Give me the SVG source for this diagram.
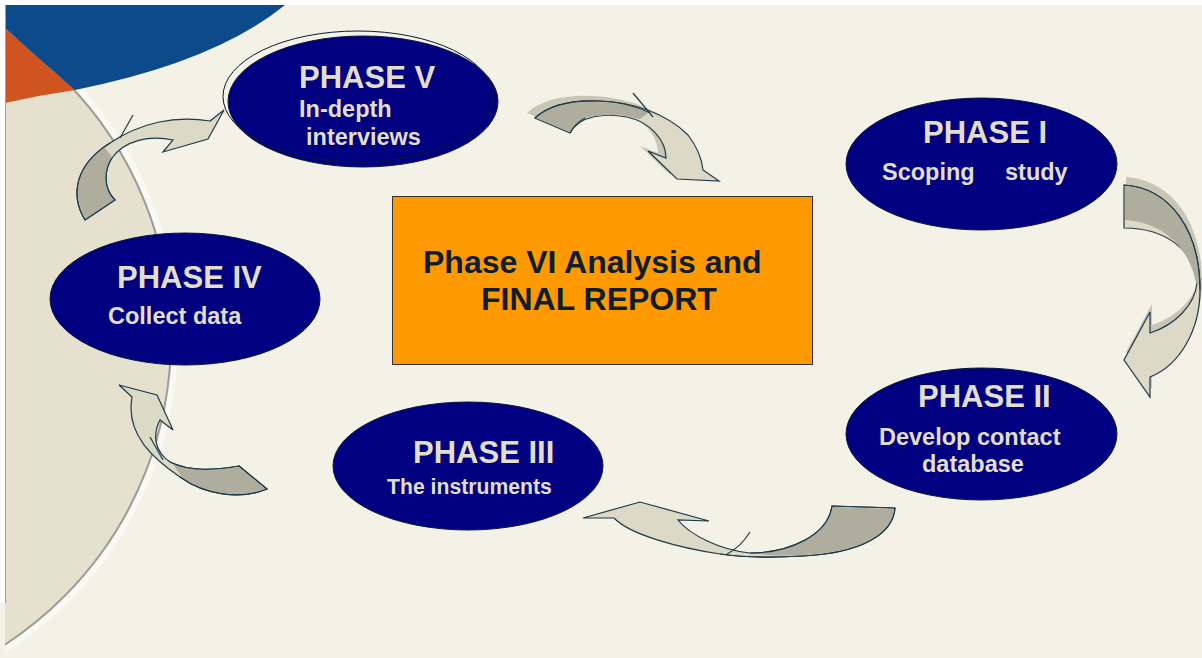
<svg xmlns="http://www.w3.org/2000/svg" width="1202" height="658" viewBox="0 0 1202 658">
<defs>
<style>
.ell{fill:#000080;stroke:#0b1840;stroke-width:1}
.t{font-family:"Liberation Sans",Arial,sans-serif;font-weight:bold;fill:#e2ded0}
.h{font-size:31px}
.s{font-size:23.5px}
.c{font-family:"Liberation Sans",Arial,sans-serif;font-weight:bold;font-size:32px;fill:#0f1e2b}
.ar{fill:#dcd9c6;stroke:#1e3a4a;stroke-width:1.2;stroke-linejoin:miter}
.tail{fill:#afad9e;stroke:none}
.sh{fill:#c9c6b5;stroke:none}
.st{fill:none;stroke:#1e3a4a;stroke-width:1.2}
</style>
<clipPath id="bg"><rect x="5" y="5" width="1197" height="653"/></clipPath>
</defs>
<rect width="1202" height="658" fill="#ffffff"/>
<rect x="5" y="5" width="1197" height="653" fill="#f4f1e6"/>
<rect x="0" y="603" width="5" height="55" fill="#f4f1e6"/>
<g id="background" clip-path="url(#bg)">
<circle cx="-195" cy="338" r="370" fill="none" stroke="#faf9f3" stroke-width="6"/>
<circle cx="-195" cy="338" r="366" fill="#e6e0cf" stroke="#9c9c98" stroke-width="2"/>
<path d="M5,28 Q40,60 75,90 Q40,95 5,103 Z" fill="#cf5420"/>
<path d="M5,5 L285,5 Q215,62 75,90 Q40,60 5,28 Z" fill="#0c4a8c"/>
</g>
<line x1="5.5" y1="5" x2="5.5" y2="603" stroke="#a0a0a0" stroke-width="1"/>
<g id="connectors">
<g id="arrow-v-vi">
<path class="sh" transform="translate(-8,-5)" d="M535,118 C550,104 575,100 600,101 C630,102 665,112 688,135 C698,148 702,160 703,170 L719,181 L677,179 L648,151 L666,158 C666,140 650,122 627,117 C605,113 580,115 570,133 Z"/>
<path class="ar" d="M535,118 C550,104 575,100 600,101 C630,102 665,112 688,135 C698,148 702,160 703,170 L719,181 L677,179 L648,151 L666,158 C666,140 650,122 627,117 C605,113 580,115 570,133 Z"/>
<path class="tail" d="M536,118 C550,105 575,101 600,102 C620,103 638,107 648,113 L640,119 C622,114 600,114 585,118 C578,122 573,127 570,132 Z"/>
<path class="st" d="M535,118 C550,104 575,100 600,101 C620,102 638,107 650,113 M585,118 C578,122 573,127 570,133"/>
<line class="st" x1="633" y1="93" x2="653" y2="117"/>
</g>
<g id="arrow-i-ii">
<path class="sh" transform="translate(2,-8)" d="M1124,185 C1170,188 1200,230 1200,290 C1200,330 1180,365 1150,377 L1150,397 L1124,360 L1150,312 L1150,333 C1175,325 1195,305 1197,283 C1195,250 1165,228 1124,228 Z"/>
<path class="ar" d="M1124,185 C1170,188 1200,230 1200,290 C1200,330 1180,365 1150,377 L1150,397 L1124,360 L1150,312 L1150,333 C1175,325 1195,305 1197,283 C1195,250 1165,228 1124,228 Z"/>
<path class="tail" d="M1125,186 C1170,189 1199,230 1199,285 L1196,283 C1190,250 1165,222 1125,220 Z"/>
<path class="st" d="M1124,185 C1170,188 1200,230 1200,290"/>
</g>
<g id="arrow-ii-iii">
<path class="ar" d="M895,508 C893,535 860,553 803,556 C770,558 740,557 720,554 C680,548 630,535 614,518 L583,518 L640,502 L709,521 L678,520 C690,535 720,550 750,553 C790,553 828,535 832,506 Z"/>
<path class="tail" d="M894,509 C892,535 860,552 803,555 C780,556 762,555 752,553 C790,552 827,535 833,507 Z"/>
<path class="st" d="M895,508 C893,535 860,553 803,556 C770,558 740,557 720,554 M750,553 C790,553 828,535 832,506 L895,508"/>
<path class="st" d="M750,532 C742,545 735,550 727,554"/>
</g>
<g id="arrow-iii-iv">
<path class="ar" d="M119,385 L157,395 L173,430 L160,420 C152,435 155,452 170,462 C190,472 215,470 239,466 L267,489 C240,500 205,495 180,477 C155,460 125,435 132,397 Z"/>
<path class="tail" d="M172,463 C190,472 215,470 239,467 L266,489 C240,499 205,494 182,477 Z"/>
<path class="st" d="M170,462 C190,472 215,470 239,466 L267,489 C240,500 205,495 180,477"/>
<line class="st" x1="150" y1="437" x2="163" y2="460"/>
</g>
<g id="arrow-iv-v">
<path class="ar" d="M85,220 C70,195 75,165 110,143 C140,123 175,115 210,121 L224,110 L208,139 L163,152 L173,140 C150,135 125,140 112,158 C104,170 103,188 115,200 Z"/>
<path class="tail" d="M86,219 C71,195 76,166 104,147 L112,157 C104,170 103,188 114,200 Z"/>
<path class="st" d="M85,220 C70,195 75,165 110,143 M112,158 C104,170 103,188 115,200 L85,220"/>
<line class="st" x1="133" y1="115" x2="120" y2="138"/>
</g>
</g>
<g id="phase-v">
<ellipse class="ell" cx="363" cy="101.5" rx="135" ry="65.5"/>
<ellipse cx="358" cy="96.5" rx="135" ry="65.5" fill="none" stroke="#0b1a30" stroke-width="1"/>
<text class="t h" x="299" y="88">PHASE V</text>
<text class="t s" x="299" y="117">In-depth</text>
<text class="t s" x="306" y="145">interviews</text>
</g>
<g id="phase-i">
<ellipse class="ell" cx="981.5" cy="164" rx="135.5" ry="66"/>
<text class="t h" x="923" y="143">PHASE I</text>
<text class="t s" y="180"><tspan x="882">Scoping</tspan><tspan x="1005">study</tspan></text>
</g>
<g id="phase-ii">
<ellipse class="ell" cx="981.5" cy="434" rx="135.5" ry="66"/>
<text class="t h" x="918" y="407">PHASE II</text>
<text class="t s" x="879" y="445">Develop contact</text>
<text class="t s" x="922" y="472">database</text>
</g>
<g id="phase-iii">
<ellipse class="ell" cx="468" cy="466" rx="135" ry="64"/>
<text class="t h" x="413" y="463">PHASE III</text>
<text class="t" style="font-size:21.2px" x="387" y="494">The instruments</text>
</g>
<g id="phase-iv">
<ellipse class="ell" cx="185" cy="299" rx="135" ry="66"/>
<text class="t h" x="117" y="288">PHASE IV</text>
<text class="t s" x="108" y="324">Collect data</text>
</g>
<g id="phase-vi">
<rect x="392.5" y="196.5" width="420" height="168" fill="#ff9900" stroke="#333333" stroke-width="1"/>
<text class="c" x="423" y="273">Phase VI Analysis and</text>
<text class="c" x="481" y="310">FINAL REPORT</text>
</g>
</svg>
